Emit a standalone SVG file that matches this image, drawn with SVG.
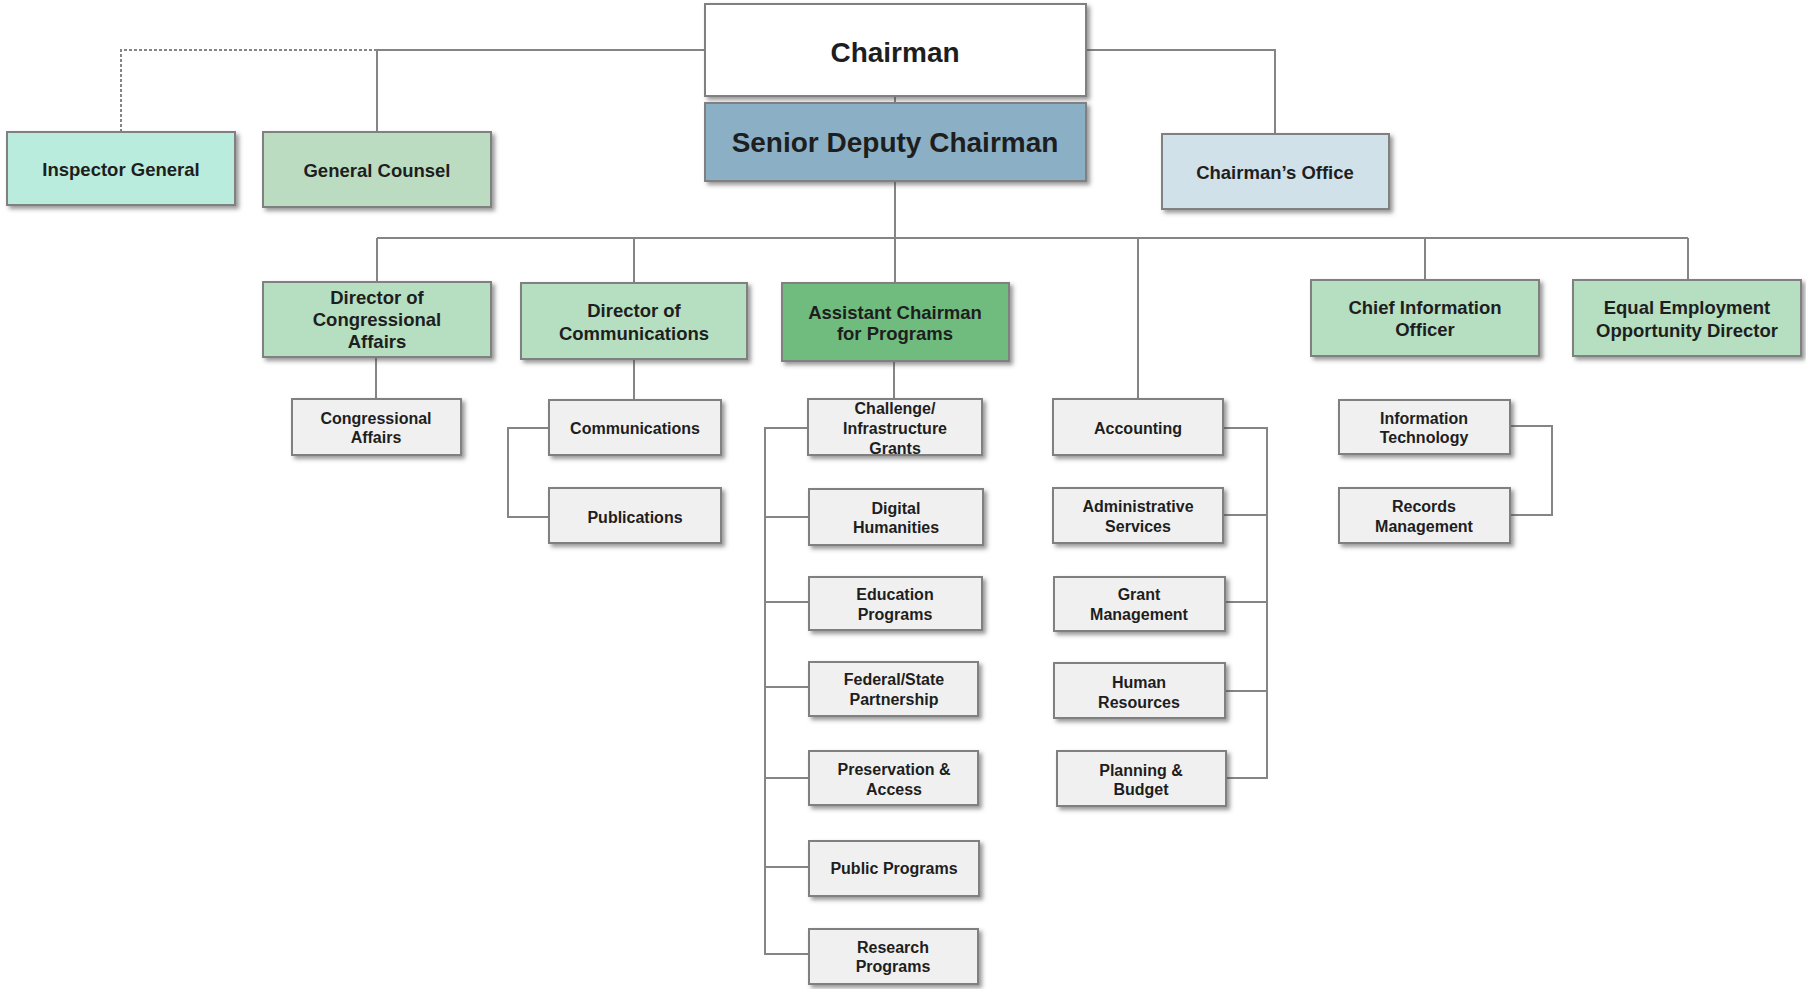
<svg xmlns="http://www.w3.org/2000/svg" width="1806" height="989" viewBox="0 0 1806 989">
<defs>
<filter id="sh" x="-10%" y="-10%" width="125%" height="140%">
<feDropShadow dx="3" dy="3" stdDeviation="2" flood-color="#444" flood-opacity="0.55"/>
</filter>
<style>
.b{stroke:#808080;stroke-width:2;filter:url(#sh)}
.w{fill:#ffffff}
.sdc{fill:#8bb0c6}
.ig{fill:#b9ecdc}
.gc{fill:#bcdcc2}
.co{fill:#d1e1ea}
.dir{fill:#b6dfc1}
.acp{fill:#6fbc7e}
.sm{fill:#f0f0f0}
text{font-family:"Liberation Sans",Arial,sans-serif;font-weight:bold;fill:#1e1e1e;text-anchor:middle}
.t28{font-size:28px}
.t19{font-size:18.5px}
.t16{font-size:16px}
.ln{stroke:#858585;stroke-width:2;fill:none}
.dash{stroke-dasharray:3 2}
</style>
</defs>
<rect width="1806" height="989" fill="#ffffff"/>
<g id="connectors">
<path class="ln dash" d="M121,132 V50 H377"/>
<path class="ln" d="M377,50 H705 M377,50 V132"/>
<path class="ln" d="M1086,50 H1275 V134"/>
<path class="ln" d="M895,96 V103 M895,181 V238"/>
<path class="ln" d="M377,238 H1688"/>
<path class="ln" d="M377,238 V282 M634,238 V283 M895,238 V283 M1138,238 V399 M1425,238 V280 M1688,238 V280"/>
<path class="ln" d="M376,357 V399"/>
<path class="ln" d="M634,359 V400 M549,428 H508 V517 H549"/>
<path class="ln" d="M894,361 V399"/>
<path class="ln" d="M808,428 H765 V954 H809 M765,517 H809 M765,602 H809 M765,687 H809 M765,778 H809 M765,867 H809"/>
<path class="ln" d="M1223,428 H1267 V778 H1057 M1223,515 H1267 M1225,602 H1267 M1225,691 H1267"/>
<path class="ln" d="M1510,426 H1552 V515 H1510"/>
</g>
<g id="chairman"><rect class="b w" x="705" y="4" width="381" height="92"/><text class="t28" x="895" y="62">Chairman</text></g>
<g id="senior-deputy-chairman"><rect class="b sdc" x="705" y="103" width="381" height="78"/><text class="t28" x="895" y="152">Senior Deputy Chairman</text></g>
<g id="inspector-general"><rect class="b ig" x="7" y="132" width="228" height="73"/><text class="t19" x="121" y="176">Inspector General</text></g>
<g id="general-counsel"><rect class="b gc" x="263" y="132" width="228" height="75"/><text class="t19" x="377" y="177">General Counsel</text></g>
<g id="chairmans-office"><rect class="b co" x="1162" y="134" width="227" height="75"/><text class="t19" x="1275" y="179">Chairman’s Office</text></g>
<g id="dir-congressional-affairs"><rect class="b dir" x="263" y="282" width="228" height="75"/><text class="t19" x="377" y="304">Director of</text><text class="t19" x="377" y="326">Congressional</text><text class="t19" x="377" y="348">Affairs</text></g>
<g id="dir-communications"><rect class="b dir" x="521" y="283" width="226" height="76"/><text class="t19" x="634" y="317">Director of</text><text class="t19" x="634" y="340">Communications</text></g>
<g id="asst-chairman-programs"><rect class="b acp" x="782" y="283" width="227" height="78"/><text class="t19" x="895" y="319">Assistant Chairman</text><text class="t19" x="895" y="340">for Programs</text></g>
<g id="chief-information-officer"><rect class="b dir" x="1311" y="280" width="228" height="76"/><text class="t19" x="1425" y="314">Chief Information</text><text class="t19" x="1425" y="336">Officer</text></g>
<g id="eeo-director"><rect class="b dir" x="1573" y="280" width="228" height="76"/><text class="t19" x="1687" y="314">Equal Employment</text><text class="t19" x="1687" y="337">Opportunity Director</text></g>
<g id="congressional-affairs"><rect class="b sm" x="292" y="399" width="169" height="56"/><text class="t16" x="376" y="424">Congressional</text><text class="t16" x="376" y="443">Affairs</text></g>
<g id="communications"><rect class="b sm" x="549" y="400" width="172" height="55"/><text class="t16" x="635" y="434">Communications</text></g>
<g id="publications"><rect class="b sm" x="549" y="488" width="172" height="55"/><text class="t16" x="635" y="523">Publications</text></g>
<g id="challenge-grants"><rect class="b sm" x="808" y="399" width="174" height="56"/><text class="t16" x="895" y="414">Challenge/</text><text class="t16" x="895" y="434">Infrastructure</text><text class="t16" x="895" y="454">Grants</text></g>
<g id="digital-humanities"><rect class="b sm" x="809" y="489" width="174" height="56"/><text class="t16" x="896" y="514">Digital</text><text class="t16" x="896" y="533">Humanities</text></g>
<g id="education-programs"><rect class="b sm" x="809" y="577" width="173" height="53"/><text class="t16" x="895" y="600">Education</text><text class="t16" x="895" y="620">Programs</text></g>
<g id="federal-state"><rect class="b sm" x="809" y="662" width="169" height="54"/><text class="t16" x="894" y="685">Federal/State</text><text class="t16" x="894" y="705">Partnership</text></g>
<g id="preservation-access"><rect class="b sm" x="809" y="751" width="169" height="54"/><text class="t16" x="894" y="775">Preservation &amp;</text><text class="t16" x="894" y="795">Access</text></g>
<g id="public-programs"><rect class="b sm" x="809" y="841" width="170" height="55"/><text class="t16" x="894" y="874">Public Programs</text></g>
<g id="research-programs"><rect class="b sm" x="809" y="929" width="169" height="55"/><text class="t16" x="893" y="953">Research</text><text class="t16" x="893" y="972">Programs</text></g>
<g id="accounting"><rect class="b sm" x="1053" y="399" width="170" height="56"/><text class="t16" x="1138" y="434">Accounting</text></g>
<g id="administrative-services"><rect class="b sm" x="1053" y="488" width="170" height="55"/><text class="t16" x="1138" y="512">Administrative</text><text class="t16" x="1138" y="532">Services</text></g>
<g id="grant-management"><rect class="b sm" x="1054" y="577" width="171" height="54"/><text class="t16" x="1139" y="600">Grant</text><text class="t16" x="1139" y="620">Management</text></g>
<g id="human-resources"><rect class="b sm" x="1054" y="663" width="171" height="55"/><text class="t16" x="1139" y="688">Human</text><text class="t16" x="1139" y="708">Resources</text></g>
<g id="planning-budget"><rect class="b sm" x="1057" y="751" width="169" height="55"/><text class="t16" x="1141" y="776">Planning &amp;</text><text class="t16" x="1141" y="795">Budget</text></g>
<g id="information-technology"><rect class="b sm" x="1339" y="400" width="171" height="54"/><text class="t16" x="1424" y="424">Information</text><text class="t16" x="1424" y="443">Technology</text></g>
<g id="records-management"><rect class="b sm" x="1339" y="488" width="171" height="55"/><text class="t16" x="1424" y="512">Records</text><text class="t16" x="1424" y="532">Management</text></g>
</svg>
